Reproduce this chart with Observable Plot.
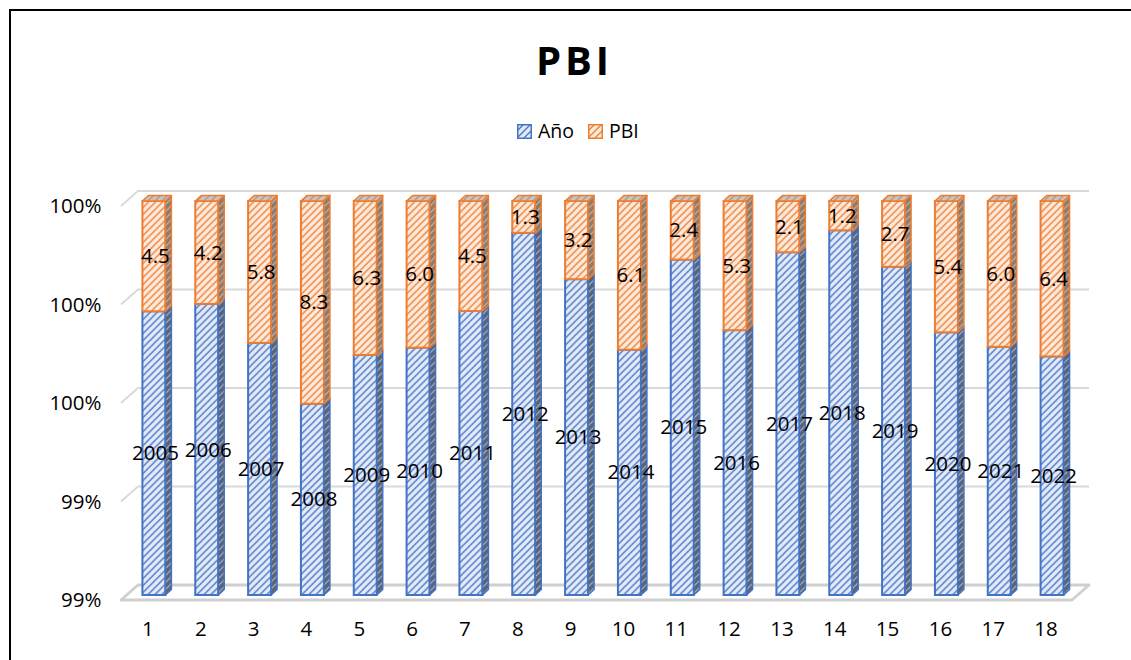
<!DOCTYPE html>
<html><head><meta charset="utf-8">
<script src="https://cdn.jsdelivr.net/npm/d3@7"></script>
<script src="https://cdn.jsdelivr.net/npm/@observablehq/plot@0.6"></script>
<style>
body{margin:0;background:#fff;font-family:"Open Sans",sans-serif;}
#wrap{position:relative;width:1131px;height:660px;overflow:hidden;background:#fff;}
#frame{position:absolute;left:9px;top:9px;width:1200px;height:700px;border-left:2px solid #000;border-top:2px solid #000;}
#title{position:absolute;left:0;top:32px;width:1131px;text-align:center;font-weight:700;font-size:40px;letter-spacing:4px;padding-left:18px;box-sizing:border-box;color:#000;line-height:56px;}
#legend{position:absolute;left:517px;top:119px;font-size:19.5px;line-height:24px;color:#000;white-space:nowrap;}
#legend span{display:inline-flex;align-items:center;margin-right:14px;}
#legend svg{margin-right:6px;}
#chart{position:absolute;left:0;top:160px;}
</style></head>
<body><div id="wrap"><div id="frame"></div><div id="title">PBI</div><div id="legend"></div><div id="chart"></div></div>
<script>
// ---- data ----
const categories = [1,2,3,4,5,6,7,8,9,10,11,12,13,14,15,16,17,18];
const years = [2005,2006,2007,2008,2009,2010,2011,2012,2013,2014,2015,2016,2017,2018,2019,2020,2021,2022];
const pbi = [4.5,4.2,5.8,8.3,6.3,6.0,4.5,1.3,3.2,6.1,2.4,5.3,2.1,1.2,2.7,5.4,6.0,6.4];
const yTicks = [0.992,0.994,0.996,0.998,1.0];
const seriesNames = ["Año","PBI"];

const yMin = yTicks[0], yMax = yTicks[yTicks.length-1];
const rows = categories.map((c,i)=>{
  const tot = years[i]+pbi[i];
  const s = years[i]/tot;
  return {idx:c, year:years[i], pbi:pbi[i], share:s,
          yMid:(Math.max(s,yMin)+yMin)/2, pMid:(s+1)/2};
});
const segs = [];
rows.forEach(r=>{
  segs.push({idx:r.idx, y1:0, y2:r.share, s:"Año"});
  segs.push({idx:r.idx, y1:r.share, y2:1, s:"PBI"});
});

const BLUE="#4472c4", ORANGE="#ed7d31";
const DX=6.5, DY=-5, DEPTH_X=6, DEPTH_Y=-5.5;

function pat(id,bg,fg){
  return `<pattern id="${id}" width="7" height="7" patternUnits="userSpaceOnUse">
  <rect width="7" height="7" fill="${bg}"/>
  <path d="M-1,1 l2,-2 M0,7 l7,-7 M6,8 l2,-2" stroke="${fg}" stroke-width="1.3"/></pattern>`;
}
const defsHTML = pat("pb","#e3eaf7",BLUE)+pat("po","#fdeadc",ORANGE)+
  pat("pbs","#58647a","#9aa6bb")+pat("pos","#8f7a6c","#c2a998")+pat("pot","#cfc2b8","#ae9887");

function defsMark(){
  const g = d3.create("svg:g");
  g.html(`<defs>${defsHTML}</defs>`);
  return g.node();
}

function gridMark(index, scales){
  const x = scales.x, y = scales.y;
  const x0 = x.range()[0], x1 = x.range()[1];
  const g = d3.create("svg:g");
  const bx = 17, by = -15;
  yTicks.forEach((t,k)=>{
    const yy = y(t);
    if (k===0){
      g.append("path").attr("d",`M${x0},${yy}L${x1},${yy}L${x1+bx},${yy+by}L${x0+bx},${yy+by}Z`)
        .attr("fill","none").attr("stroke","#cfcfcf").attr("stroke-width",2.8).attr("stroke-linejoin","round");
    } else {
      g.append("path").attr("d",`M${x0},${yy}L${x0+bx},${yy+by}L${x1+bx},${yy+by}`)
        .attr("fill","none").attr("stroke","#d9d9d9").attr("stroke-width",1.8);
    }
  });
  return g.node();
}

function facesMark(index, scales){
  const x = scales.x, y = scales.y;
  const bw = x.bandwidth();
  const g = d3.create("svg:g");
  const yc = v => y(Math.max(yMin, Math.min(yMax, v)));
  segs.forEach(d=>{
    const xl = x(d.idx)+DX, xr = xl+bw;
    const yt = yc(d.y2)+DY, yb = yc(d.y1)+DY;
    const isB = d.s==="Año";
    g.append("path").attr("d",`M${xr},${yt}L${xr+DEPTH_X},${yt+DEPTH_Y}L${xr+DEPTH_X},${yb+DEPTH_Y}L${xr},${yb}Z`)
      .attr("fill", isB?"url(#pbs)":"url(#pos)").attr("stroke", isB?BLUE:ORANGE).attr("stroke-width",1.5).attr("stroke-linejoin","round");
    if (!isB){
      g.append("path").attr("d",`M${xl},${yt}L${xl+DEPTH_X},${yt+DEPTH_Y}L${xr+DEPTH_X},${yt+DEPTH_Y}L${xr},${yt}Z`)
        .attr("fill","url(#pot)").attr("stroke",ORANGE).attr("stroke-width",1.5).attr("stroke-linejoin","round");
    }
  });
  return g.node();
}

const chart = Plot.plot({
  width:1131, height:500,
  marginTop:46, marginBottom:60, marginLeft:121, marginRight:59,
  style:{fontFamily:"Open Sans", fontSize:"20.5px", color:"#000", background:"transparent", overflow:"visible"},
  x:{domain:categories, paddingInner:0.565, paddingOuter:0.2825, round:false, tickSize:0, tickPadding:21, label:null},
  y:{domain:[yMin,yMax], clamp:true, ticks:yTicks, tickFormat:d3.format(".0%"), tickSize:0, tickPadding:20, label:null},
  marks:[
    defsMark,
    gridMark,
    Plot.barY(segs, {x:"idx", y1:"y1", y2:"y2", dx:DX, dy:DY,
      fill:d=>d.s==="Año"?"url(#pb)":"url(#po)", stroke:d=>d.s==="Año"?BLUE:ORANGE, strokeWidth:2}),
    facesMark,
    Plot.text(rows, {x:"idx", y:"yMid", text:d=>String(d.year), dx:DX+1, dy:DY, fill:"#000", fontSize:20.5}),
    Plot.text(rows, {x:"idx", y:"pMid", text:d=>d3.format(".1f")(d.pbi), dx:DX+1, dy:DY, fill:"#000", fontSize:20.5})
  ]
});
document.getElementById("chart").appendChild(chart);

// legend
const leg = document.getElementById("legend");
seriesNames.forEach((n,i)=>{
  const sp = document.createElement("span");
  const fill = i===0?"url(#lpb)":"url(#lpo)", st = i===0?BLUE:ORANGE;
  sp.innerHTML = `<svg width="15" height="15"><defs>${pat(i===0?"lpb":"lpo", i===0?"#e3eaf7":"#fdeadc", st)}</defs><rect x="0.75" y="0.75" width="13.5" height="13.5" fill="${fill}" stroke="${st}" stroke-width="1.5"/></svg>${n}`;
  leg.appendChild(sp);
});
</script></body></html>
